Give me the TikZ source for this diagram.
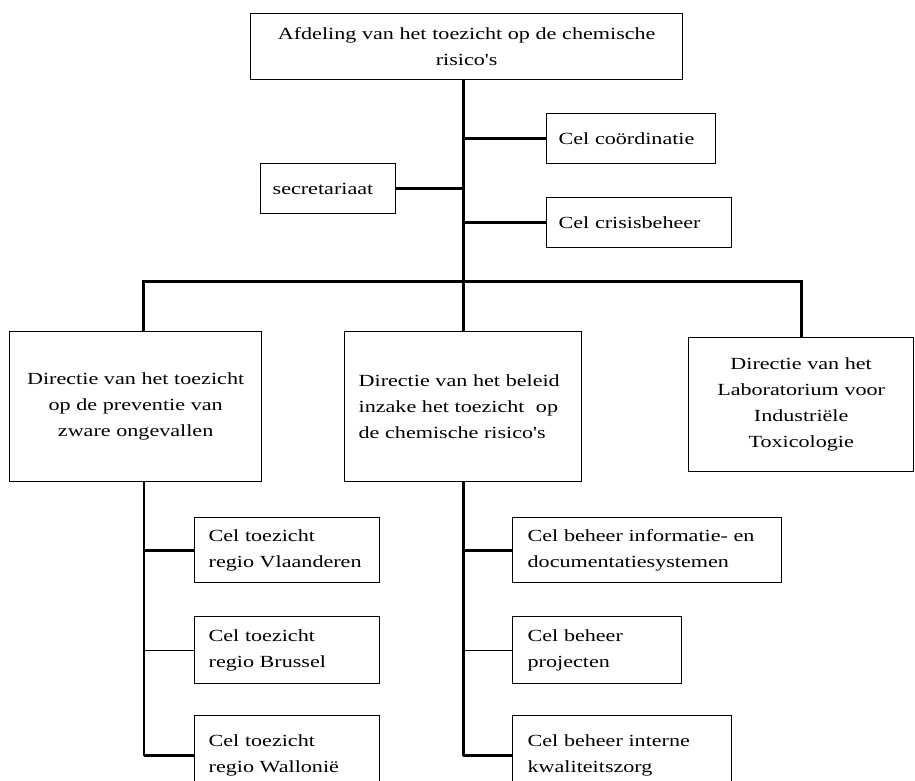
\documentclass[tikz,border=0pt]{standalone}
\usepackage{fontspec}
\setmainfont{Liberation Serif}[FakeStretch=1.3,Ligatures=TeXOff]
\begin{document}
\begin{tikzpicture}[x=1pt,y=-1pt,
  box/.style={draw,line width=1.3pt,anchor=north west,inner ysep=0pt,
    font=\fontsize{17}{26}\selectfont},
  cbox/.style={box,align=center,inner xsep=2pt},
  lbox/.style={box,align=left,inner xsep=14pt},
  thick3/.style={line width=3pt},
  thick2/.style={line width=2pt},
  thin1/.style={line width=1pt}]
\useasboundingbox (0,0) rectangle (915,780);
% level 0
\node[cbox,text width=428pt,minimum height=66pt] (top) at (250,13) {Afdeling van het toezicht op de chemische\\risico's};
\node[lbox,inner xsep=12pt,text width=145pt,minimum height=50pt] (coord) at (546,113) {Cel coördinatie};
\node[lbox,inner xsep=12pt,text width=111pt,minimum height=50pt] (sec) at (260,163) {secretariaat};
\node[lbox,inner xsep=12pt,text width=161pt,minimum height=50pt] (crisis) at (546,197) {Cel crisisbeheer};
% level 1
\node[cbox,text width=248pt,minimum height=150pt] (left) at (9,331) {Directie van het toezicht\\op de preventie van\\zware ongevallen};
\node[lbox,text width=209pt,minimum height=150pt] (mid) at (344,331) {Directie van het beleid\\inzake het toezicht~ op\\de chemische risico's};
\node[cbox,text width=221pt,minimum height=134pt] (right) at (688,337) {Directie van het\\Laboratorium voor\\Industriële\\Toxicologie};
% level 2 left
\node[lbox,text width=157pt,minimum height=65pt] (l1) at (194,517) {Cel toezicht\\regio Vlaanderen};
\node[lbox,text width=157pt,minimum height=67pt] (l2) at (194,616) {Cel toezicht\\regio Brussel};
\node[lbox,text width=157pt,minimum height=80pt] (l3) at (194,715) {Cel toezicht\\regio Wallonië};
% level 2 mid
\node[lbox,inner xsep=15pt,text width=239pt,minimum height=65pt] (m1) at (512,517) {Cel beheer informatie- en\\documentatiesystemen};
\node[lbox,inner xsep=15pt,text width=139pt,minimum height=67pt] (m2) at (512,616) {Cel beheer\\projecten};
\node[lbox,inner xsep=15pt,text width=189pt,minimum height=80pt] (m3) at (512,715) {Cel beheer interne\\kwaliteitszorg};
% connectors
\coordinate (bus) at (463,281);
\coordinate (lv) at (143.5,281);
\draw[thick3] (top.south -| bus) -- (mid.north -| bus);
\draw[thick3] (coord.west) -- (coord.west -| bus);
\draw[thick3] (sec.east) -- (sec.east -| bus);
\draw[thick3] (crisis.west) -- (crisis.west -| bus);
\draw[thick3] (left.north -| lv) -- (lv) -- (bus) -| (right.north);
\draw[thick2] (left.south -| lv) -- (l3.west -| lv);
\draw[thick3] (l1.west) -- (l1.west -| lv);
\draw[thin1] (l2.west) -- (l2.west -| lv);
\draw[thick3] (l3.west) -- (l3.west -| lv);
\draw[thick3] (mid.south -| bus) -- (m3.west -| bus);
\draw[thick3] (m1.west) -- (m1.west -| bus);
\draw[thin1] (m2.west) -- (m2.west -| bus);
\draw[thick3] (m3.west) -- (m3.west -| bus);
\end{tikzpicture}
\end{document}
